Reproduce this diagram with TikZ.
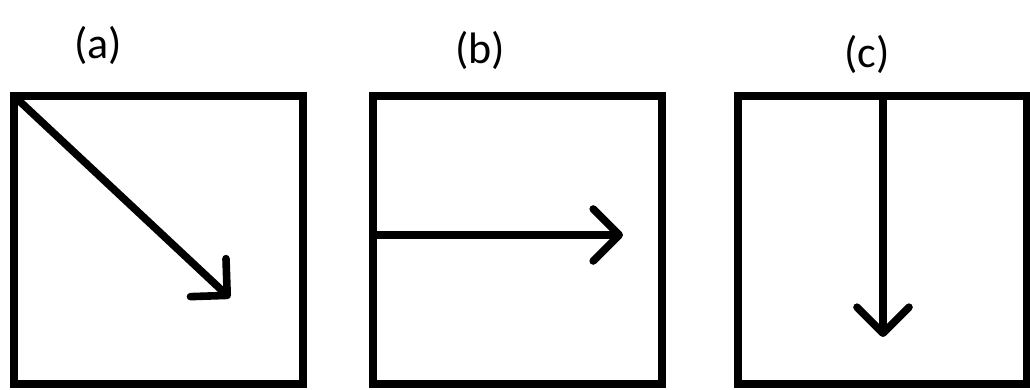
\documentclass[tikz,border=0pt]{standalone}
\usepackage{fontspec}
\setmainfont{Carlito}
\usetikzlibrary{arrows.meta}
\begin{document}
\begin{tikzpicture}[
    x=0.5pt,y=0.5pt,
    box/.style={draw,line width=4pt,outer sep=0pt,minimum width=144.5pt,minimum height=144pt},
    dir/.style={line width=3.8pt,-{Straight Barb[length=13pt,width=26pt,round]}},
    tag/.style={font=\fontsize{22}{26}\selectfont}
]
\useasboundingbox (0,0) rectangle (1030,390);
\node[box] (pa) at (158.5,150) {};
\node[box] (pb) at (517,150) {};
\node[box] (pc) at (882,150) {};

\node[tag] (la) at (98,345) {(a)};
\node[tag] (lb) at (480,340) {(b)};
\node[tag] (lc) at (867,336) {(c)};

\coordinate (ea) at (230,92);
\coordinate (eb) at (623,155);
\coordinate (ec) at (883,53);
\draw[dir] (pa.north west) -- (ea);
\draw[dir] (pb.west |- eb) -- (eb);
\draw[dir] (pc.north -| ec) -- (ec);
\end{tikzpicture}
\end{document}
